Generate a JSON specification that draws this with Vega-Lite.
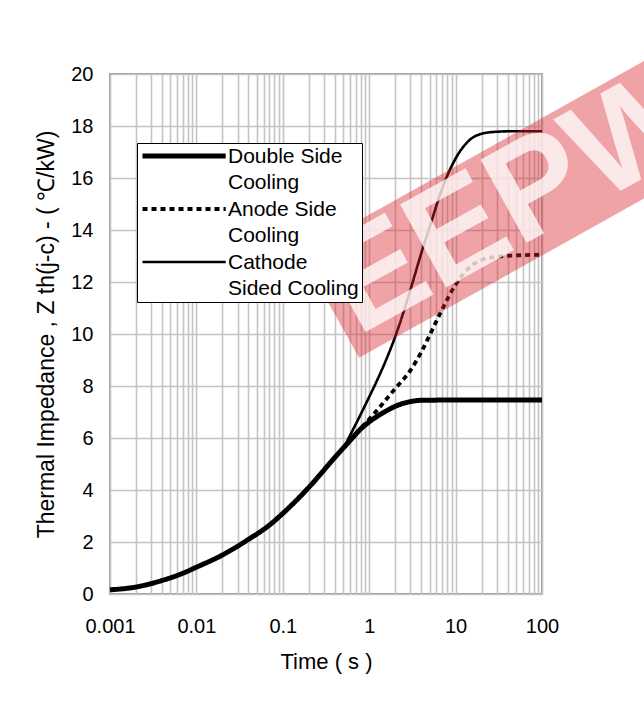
{
  "$schema": "https://vega.github.io/schema/vega-lite/v6.json",
  "autosize": {"type": "none"},
  "padding": {"left": 110, "top": 74, "right": 102, "bottom": 130},
  "width": 432,
  "height": 520,
  "background": "white",
  "config": {
    "font": "Liberation Sans",
    "view": {"stroke": "#9a9a9a", "strokeWidth": 2},
    "axis": {
      "domain": false,
      "ticks": false,
      "grid": true,
      "gridColor": "#c4c4c4",
      "gridWidth": 1.6,
      "labelFont": "Liberation Sans",
      "labelFontSize": 20,
      "labelColor": "#000000",
      "titleFont": "Liberation Sans",
      "titleFontSize": 22,
      "titleFontWeight": "normal",
      "titleColor": "#000000"
    },
    "legend": {
      "labelFont": "Liberation Sans",
      "labelFontSize": 21,
      "labelColor": "#000000",
      "labelLimit": 400,
      "symbolType": "M-1,0H5.4",
      "symbolSize": 676,
      "symbolStrokeColor": "#000000",
      "symbolFillColor": "transparent"
    }
  },
  "datasets": {
    "curves": [
      {"series": "Double Side Cooling", "t": 0.001, "z": 0.16},
      {"series": "Double Side Cooling", "t": 0.002, "z": 0.27},
      {"series": "Double Side Cooling", "t": 0.004, "z": 0.52},
      {"series": "Double Side Cooling", "t": 0.007, "z": 0.8},
      {"series": "Double Side Cooling", "t": 0.01, "z": 1.03},
      {"series": "Double Side Cooling", "t": 0.02, "z": 1.5},
      {"series": "Double Side Cooling", "t": 0.04, "z": 2.1},
      {"series": "Double Side Cooling", "t": 0.07, "z": 2.65},
      {"series": "Double Side Cooling", "t": 0.1, "z": 3.1},
      {"series": "Double Side Cooling", "t": 0.2, "z": 4.1},
      {"series": "Double Side Cooling", "t": 0.4, "z": 5.25},
      {"series": "Double Side Cooling", "t": 0.6, "z": 5.9},
      {"series": "Double Side Cooling", "t": 0.8, "z": 6.35},
      {"series": "Double Side Cooling", "t": 1, "z": 6.62},
      {"series": "Double Side Cooling", "t": 1.5, "z": 7.0},
      {"series": "Double Side Cooling", "t": 2, "z": 7.22},
      {"series": "Double Side Cooling", "t": 3, "z": 7.4},
      {"series": "Double Side Cooling", "t": 4, "z": 7.45},
      {"series": "Double Side Cooling", "t": 10, "z": 7.46},
      {"series": "Double Side Cooling", "t": 100, "z": 7.46},
      {"series": "Anode Side Cooling", "t": 0.6, "z": 5.9},
      {"series": "Anode Side Cooling", "t": 0.8, "z": 6.38},
      {"series": "Anode Side Cooling", "t": 1, "z": 6.72},
      {"series": "Anode Side Cooling", "t": 1.2, "z": 7.02},
      {"series": "Anode Side Cooling", "t": 1.5, "z": 7.4},
      {"series": "Anode Side Cooling", "t": 2, "z": 7.9},
      {"series": "Anode Side Cooling", "t": 3, "z": 8.6},
      {"series": "Anode Side Cooling", "t": 4, "z": 9.3},
      {"series": "Anode Side Cooling", "t": 5, "z": 9.95},
      {"series": "Anode Side Cooling", "t": 7, "z": 10.95},
      {"series": "Anode Side Cooling", "t": 10, "z": 11.9},
      {"series": "Anode Side Cooling", "t": 15, "z": 12.6},
      {"series": "Anode Side Cooling", "t": 20, "z": 12.85},
      {"series": "Anode Side Cooling", "t": 30, "z": 12.97},
      {"series": "Anode Side Cooling", "t": 50, "z": 13.02},
      {"series": "Anode Side Cooling", "t": 100, "z": 13.05},
      {"series": "Cathode Sided Cooling", "t": 0.4, "z": 5.25},
      {"series": "Cathode Sided Cooling", "t": 0.5, "z": 5.6},
      {"series": "Cathode Sided Cooling", "t": 0.6, "z": 6.1},
      {"series": "Cathode Sided Cooling", "t": 0.8, "z": 6.92},
      {"series": "Cathode Sided Cooling", "t": 1, "z": 7.58},
      {"series": "Cathode Sided Cooling", "t": 1.2, "z": 8.13},
      {"series": "Cathode Sided Cooling", "t": 1.5, "z": 8.85},
      {"series": "Cathode Sided Cooling", "t": 2, "z": 9.9},
      {"series": "Cathode Sided Cooling", "t": 2.5, "z": 10.85},
      {"series": "Cathode Sided Cooling", "t": 3, "z": 11.7},
      {"series": "Cathode Sided Cooling", "t": 4, "z": 13.1},
      {"series": "Cathode Sided Cooling", "t": 5, "z": 14.1},
      {"series": "Cathode Sided Cooling", "t": 7, "z": 15.6},
      {"series": "Cathode Sided Cooling", "t": 10, "z": 16.75},
      {"series": "Cathode Sided Cooling", "t": 15, "z": 17.5},
      {"series": "Cathode Sided Cooling", "t": 20, "z": 17.7},
      {"series": "Cathode Sided Cooling", "t": 30, "z": 17.78},
      {"series": "Cathode Sided Cooling", "t": 50, "z": 17.8},
      {"series": "Cathode Sided Cooling", "t": 100, "z": 17.8}
    ],
    "band": [
      {"t": 0.35, "z": 11.1},
      {"t": 11270, "z": 19.47}
    ],
    "mark": [
      {"t": 0.43, "z": 11.28, "label": "EEPW"}
    ]
  },
  "layer": [
    {
      "data": {"name": "curves"},
      "mark": {"type": "line", "color": "#000000", "interpolate": "monotone", "strokeCap": "butt"},
      "encoding": {
        "x": {
          "field": "t", "type": "quantitative",
          "scale": {"type": "log", "domain": [0.001, 100], "nice": false},
          "axis": {
            "title": "Time ( s )",
            "values": [0.001,0.002,0.003,0.004,0.005,0.006,0.007,0.008,0.009,0.01,0.02,0.03,0.04,0.05,0.06,0.07,0.08,0.09,0.1,0.2,0.3,0.4,0.5,0.6,0.7,0.8,0.9,1,2,3,4,5,6,7,8,9,10,20,30,40,50,60,70,80,90,100],
            "format": "~g",
            "labelExpr": "indexof(['0.001','0.01','0.1','1','10','100'], datum.label) >= 0 ? datum.label : ''",
            "labelPadding": 22,
            "titlePadding": 15,
            "labelFlush": false,
            "labelOverlap": false
          }
        },
        "y": {
          "field": "z", "type": "quantitative",
          "scale": {"domain": [0, 20], "nice": false},
          "axis": {
            "title": "Thermal Impedance , Z th(j-c) - ( ℃/kW)",
            "titleFontSize": 23,
            "values": [0,2,4,6,8,10,12,14,16,18,20],
            "labelPadding": 17,
            "titlePadding": 12
          }
        },
        "strokeDash": {
          "field": "series", "type": "nominal",
          "scale": {"domain": ["Double Side Cooling", "Anode Side Cooling", "Cathode Sided Cooling"], "range": [[1, 0], [5, 4], [1, 0]]},
          "legend": {
            "title": null,
            "orient": "none",
            "legendX": 27,
            "legendY": 69,
            "strokeColor": "#000000",
            "fillColor": "#ffffff",
            "padding": 3,
            "labelOffset": 57,
            "rowPadding": 6,
            "symbolType": "M-1,0H5.4",
            "symbolSize": 676,
            "labelExpr": "datum.label == 'Double Side Cooling' ? ['Double Side', 'Cooling'] : datum.label == 'Anode Side Cooling' ? ['Anode Side', 'Cooling'] : ['Cathode', 'Sided Cooling']",
            "encode": {
              "labels": {"update": {"lineHeight": {"value": 26}, "baseline": {"value": "top"}, "y": {"value": 0}}},
              "symbols": {"update": {"y": {"value": 10}, "fill": {"value": "transparent"}}}
            }
          }
        },
        "strokeWidth": {
          "field": "series", "type": "nominal",
          "scale": {"domain": ["Double Side Cooling", "Anode Side Cooling", "Cathode Sided Cooling"], "range": [5, 2.6, 1.5]},
          "legend": {
            "title": null,
            "orient": "none",
            "legendX": 27,
            "legendY": 69,
            "strokeColor": "#000000",
            "fillColor": "#ffffff",
            "padding": 3,
            "labelOffset": 57,
            "rowPadding": 6,
            "symbolType": "M-1,0H5.4",
            "symbolSize": 676,
            "labelExpr": "datum.label == 'Double Side Cooling' ? ['Double Side', 'Cooling'] : datum.label == 'Anode Side Cooling' ? ['Anode Side', 'Cooling'] : ['Cathode', 'Sided Cooling']",
            "encode": {
              "labels": {"update": {"lineHeight": {"value": 26}, "baseline": {"value": "top"}, "y": {"value": 0}}},
              "symbols": {"update": {"y": {"value": 10}, "fill": {"value": "transparent"}}}
            }
          }
        },
        "detail": {"field": "series", "type": "nominal"}
      }
    },
    {
      "data": {"name": "band"},
      "mark": {"type": "line", "color": "#d9232e", "opacity": 0.42, "strokeWidth": 120, "strokeCap": "butt", "clip": false},
      "encoding": {
        "x": {"field": "t", "type": "quantitative"},
        "y": {"field": "z", "type": "quantitative"}
      }
    },
    {
      "data": {"name": "mark"},
      "mark": {"type": "text", "color": "#ffffff", "opacity": 0.75, "fontSize": 138, "fontWeight": "bold", "angle": -29, "align": "left", "baseline": "middle", "clip": false},
      "encoding": {
        "x": {"field": "t", "type": "quantitative"},
        "y": {"field": "z", "type": "quantitative"},
        "text": {"field": "label"}
      }
    }
  ]
}
